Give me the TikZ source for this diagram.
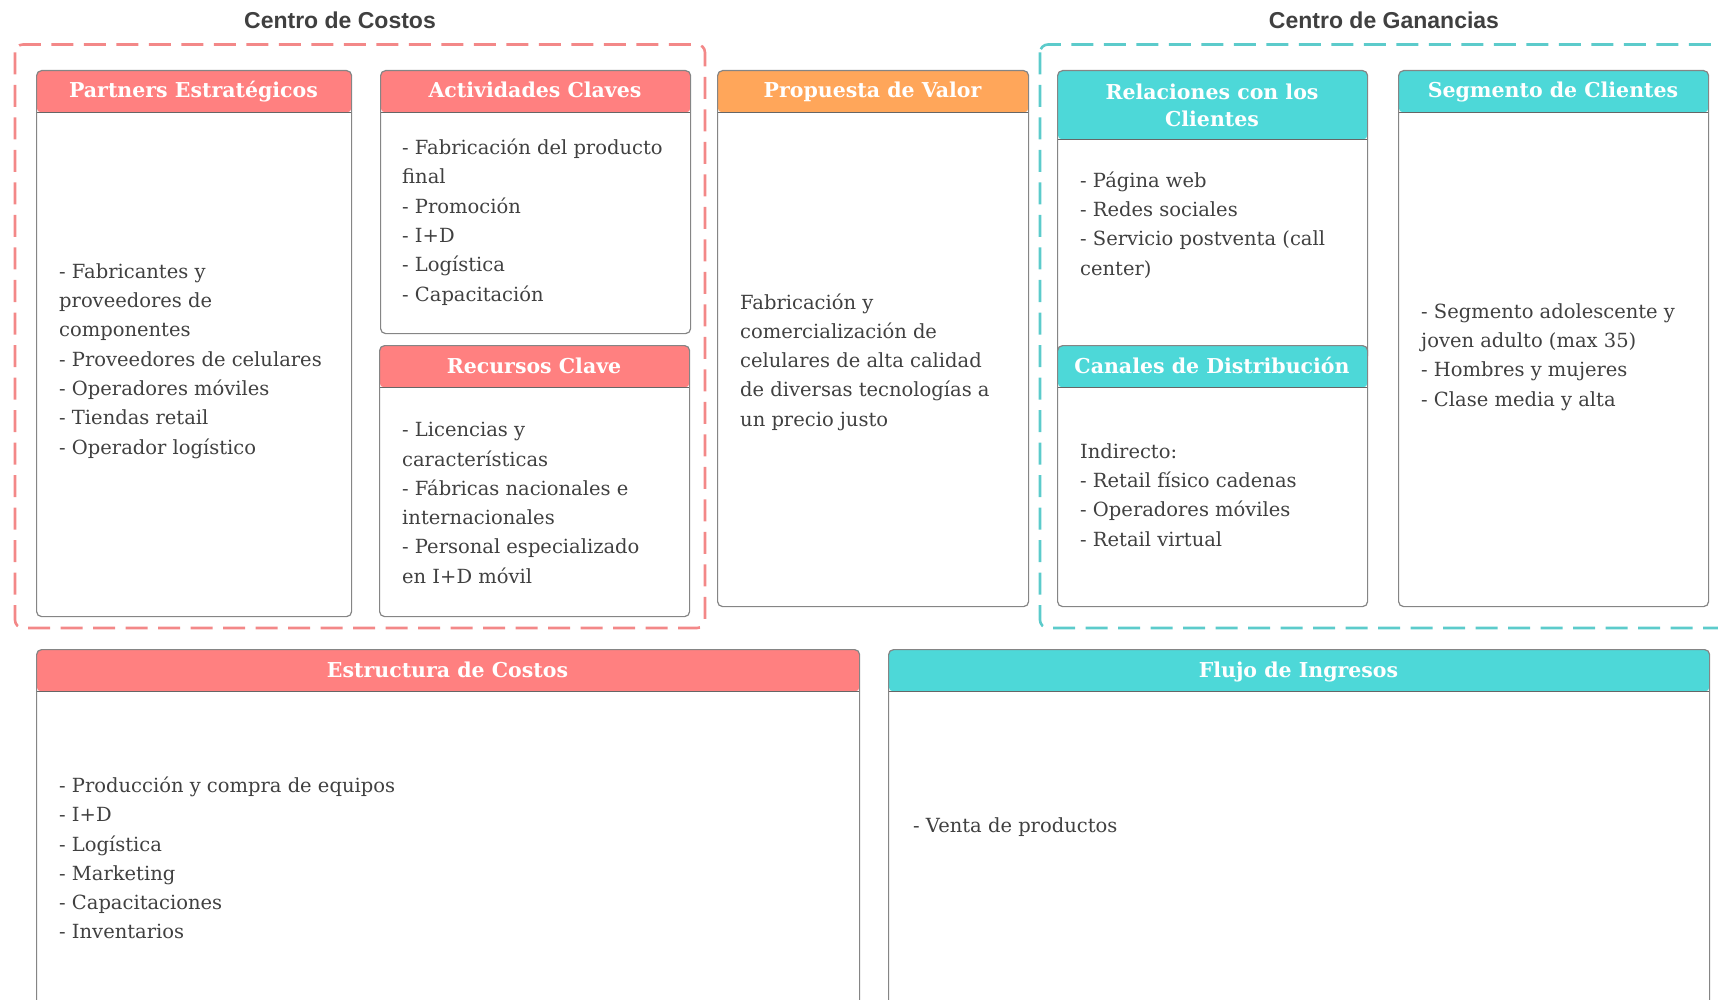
\documentclass[tikz,border=0pt]{standalone}
\usepackage{fontspec}
\setmainfont{DejaVu Serif}
\setsansfont{Liberation Sans}
\definecolor{rojo}{HTML}{FF8080}
\definecolor{naranja}{HTML}{FFA65A}
\definecolor{turquesa}{HTML}{4DD8D8}
\definecolor{rojolinea}{HTML}{F38888}
\definecolor{turqlinea}{HTML}{5CCBCB}
\definecolor{borde}{HTML}{858585}
\definecolor{texto}{HTML}{404040}
\begin{document}
\begin{tikzpicture}[x=1pt,y=-1pt,
    card/.style 2 args={draw=borde, line width=1.2pt, rounded corners=5pt, fill=white,
        inner sep=0pt, anchor=north west,
        path picture={\fill[#1] (path picture bounding box.north west) rectangle ([yshift=-#2]path picture bounding box.north east);
            \draw[texto!80, line width=1.2pt] ([yshift=-#2]path picture bounding box.north west) -- ([yshift=-#2]path picture bounding box.north east);}},
    head/.style={text=white, align=center, inner sep=0pt, font=\fontsize{20.5}{27.5}\selectfont\bfseries},
    body/.style={text=texto, align=left, anchor=west, inner sep=0pt, font=\fontsize{19.5}{29.3}\selectfont},
    centro/.style={text=texto, inner sep=0pt, font=\sffamily\bfseries\fontsize{23}{26}\selectfont},
    zona/.style={line width=2.6pt, rounded corners=8pt, dash pattern=on 22pt off 10.5pt}]

    \useasboundingbox (0,0) rectangle (1718,1000);

    \node[centro] (costos) at (340,20) {Centro de Costos};
    \node[centro] (ganancias) at (1384,20) {Centro de Ganancias};
    \draw[zona, rojolinea] (15,44.5) rectangle (705,628);
    \draw[zona, turqlinea] (1040,44.5) rectangle (1760,628);

    \node[card={rojo}{42pt}, minimum width=315pt, minimum height=546pt] (partners) at (36,70) {};
    \node[card={rojo}{42pt}, minimum width=310pt, minimum height=263pt] (actividades) at (380,70) {};
    \node[card={rojo}{42pt}, minimum width=310pt, minimum height=271pt] (recursos) at (379,345) {};
    \node[card={naranja}{42pt}, minimum width=311pt, minimum height=536pt] (propuesta) at (717,70) {};
    \node[card={turquesa}{69pt}, minimum width=310pt, minimum height=290pt] (relaciones) at (1057,70) {};
    \node[card={turquesa}{42pt}, minimum width=310pt, minimum height=261pt] (canales) at (1057,345) {};
    \node[card={turquesa}{42pt}, minimum width=310pt, minimum height=536pt] (segmento) at (1398,70) {};
    \node[card={rojo}{42pt}, minimum width=823pt, minimum height=370pt] (estructura) at (36,649) {};
    \node[card={turquesa}{42pt}, minimum width=821pt, minimum height=370pt] (flujo) at (888,649) {};

    \node[head, anchor=base] (partnersH) at (193.5,98) {Partners Estratégicos};
    \node[head, anchor=base] (actividadesH) at (535,98) {Actividades Claves};
    \node[head, anchor=base] (recursosH) at (534,373) {Recursos Clave};
    \node[head, anchor=base] (propuestaH) at (872.5,98) {Propuesta de Valor};
    \node[head] (relacionesH) at (1212,105.5) {Relaciones con los\\Clientes};
    \node[head, anchor=base] (canalesH) at (1212,373) {Canales de Distribución};
    \node[head, anchor=base] (segmentoH) at (1553,98) {Segmento de Clientes};
    \node[head, anchor=base] (estructuraH) at (447.5,677) {Estructura de Costos};
    \node[head, anchor=base] (flujoH) at (1298.5,677) {Flujo de Ingresos};

    \node[body] (partnersB) at (59,361) {- Fabricantes y\\proveedores de\\componentes\\- Proveedores de celulares\\- Operadores móviles\\- Tiendas retail\\- Operador logístico};
    \node[body] (actividadesB) at (402,222) {- Fabricación del producto\\final\\- Promoción\\- I+D\\- Logística\\- Capacitación};
    \node[body] (recursosB) at (402,503) {- Licencias y\\características\\- Fábricas nacionales e\\internacionales\\- Personal especializado\\en I+D móvil};
    \node[body] (propuestaB) at (740,362) {Fabricación y\\comercialización de\\celulares de alta calidad\\de diversas tecnologías a\\un precio justo};
    \node[body] (relacionesB) at (1080,225) {- Página web\\- Redes sociales\\- Servicio postventa (call\\center)};
    \node[body] (canalesB) at (1080,495) {Indirecto:\\- Retail físico cadenas\\- Operadores móviles\\- Retail virtual};
    \node[body] (segmentoB) at (1421,357) {- Segmento adolescente y\\joven adulto (max 35)\\- Hombres y mujeres\\- Clase media y alta};
    \node[body] (estructuraB) at (59,858) {- Producción y compra de equipos\\- I+D\\- Logística\\- Marketing\\- Capacitaciones\\- Inventarios};
    \node[body] (flujoB) at (913,827) {- Venta de productos};
\end{tikzpicture}
\end{document}
